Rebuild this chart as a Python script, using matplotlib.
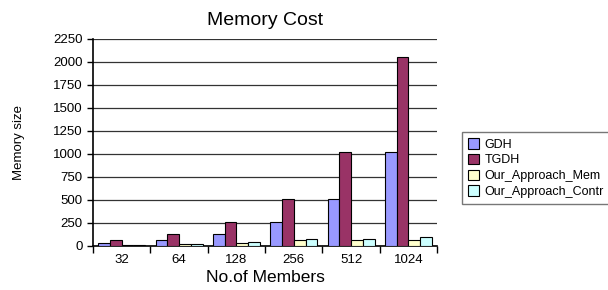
import matplotlib.pyplot as plt
import numpy as np

members = ['32', '64', '128', '256', '512', '1024']
gdh = [32, 64, 128, 256, 512, 1024]
tgdh = [64, 128, 256, 512, 1024, 2048]
our_mem = [12, 25, 36, 65, 65, 65]
our_control = [12, 25, 42, 78, 80, 100]

series = [('GDH', gdh, '#9999ff'),
          ('TGDH', tgdh, '#993366'),
          ('Our_Approach_Mem', our_mem, '#ffffcc'),
          ('Our_Approach_Contr', our_control, '#ccffff')]

plt.rcParams['font.family'] = ['Liberation Sans', 'DejaVu Sans']

fig = plt.figure(figsize=(6.08, 2.9), dpi=100)
ax = fig.add_axes([0.153, 0.152, 0.566, 0.714])

x = np.arange(len(members))
w = 0.205
for i, (name, vals, col) in enumerate(series):
    ax.bar(x + (i - 1.5) * w, vals, w, color=col, edgecolor='black',
           linewidth=0.8, label=name, zorder=3)

ax.set_ylim(0, 2250)
ax.set_yticks(range(0, 2251, 250))
ax.set_xlim(-0.5, len(members) - 0.5)
ax.set_xticks(x)
ax.set_xticklabels(members)
ax.set_xticks(np.arange(-0.5, len(members), 1), minor=True)
ax.tick_params(axis='x', which='major', length=0, labelsize=9.5, pad=6)
ax.tick_params(axis='x', which='minor', length=5, width=1, direction='out')
ax.tick_params(axis='y', length=4, width=1, labelsize=9.5, colors='black')
ax.grid(axis='y', color='#333333', linewidth=0.9, zorder=0)

for s in ['top', 'right']:
    ax.spines[s].set_visible(False)
ax.spines['left'].set_linewidth(1.2)
ax.spines['bottom'].set_linewidth(1.2)

ax.set_title('Memory Cost', fontsize=14, pad=10)
ax.set_xlabel('No.of Members', fontsize=12.5, labelpad=3)
ax.set_ylabel('Memory size', fontsize=9.5, labelpad=20)

leg = fig.legend(loc='upper left', bbox_to_anchor=(462 / 608, 1 - 132 / 290),
                 borderaxespad=0, frameon=True, fancybox=False,
                 edgecolor='#555555', fontsize=9, handlelength=0.9,
                 handleheight=0.9, handletextpad=0.4, borderpad=0.5,
                 labelspacing=0.25)
leg.get_frame().set_linewidth(1.0)

fig.savefig('out.png', dpi=100)
